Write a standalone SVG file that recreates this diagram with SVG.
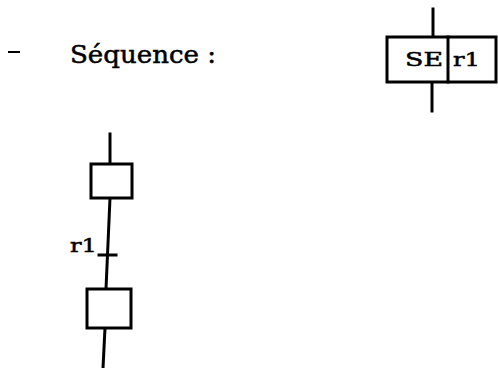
<svg xmlns="http://www.w3.org/2000/svg" width="498" height="368" viewBox="0 0 498 368">
<style>
.ln{stroke:#000;stroke-width:3;fill:none;stroke-linecap:square}
.bx{stroke:#000;stroke-width:3;fill:#fff}
.t{font-family:"DejaVu Serif","Liberation Serif",serif;fill:#000;stroke:#000;stroke-width:0.5}
</style>
<rect width="498" height="368" fill="#fff"/>
<g id="title">
<line x1="8" y1="52" x2="20" y2="52" stroke="#000" stroke-width="2"/>
<text class="t" x="70" y="63" font-size="24" textLength="146" lengthAdjust="spacingAndGlyphs">Séquence :</text>
</g>
<g id="connectors">
<line class="ln" x1="433" y1="9" x2="433" y2="37"/>
<line class="ln" x1="432" y1="82" x2="432" y2="111"/>
<line class="ln" x1="110" y1="134" x2="110" y2="164"/>
<line class="ln" x1="110" y1="198" x2="106" y2="289"/>
<line class="ln" x1="105" y1="328" x2="103" y2="368"/>
</g>
<g id="symbol-SE">
<rect class="bx" x="387" y="37" width="109" height="45"/>
<line class="ln" x1="448" y1="37" x2="448" y2="82"/>
<text class="t" x="405" y="66" font-size="19" textLength="38" lengthAdjust="spacingAndGlyphs">SE</text>
<text class="t" x="453" y="66" font-size="19" textLength="27" lengthAdjust="spacingAndGlyphs">r1</text>
</g>
<g id="step1">
<rect class="bx" x="91" y="164" width="41" height="34"/>
</g>
<g id="transition-r1">
<line class="ln" x1="99" y1="255" x2="116" y2="255"/>
<text class="t" x="70" y="252" font-size="19" textLength="27" lengthAdjust="spacingAndGlyphs">r1</text>
</g>
<g id="step2">
<rect class="bx" x="87" y="289" width="44" height="39"/>
</g>
</svg>
